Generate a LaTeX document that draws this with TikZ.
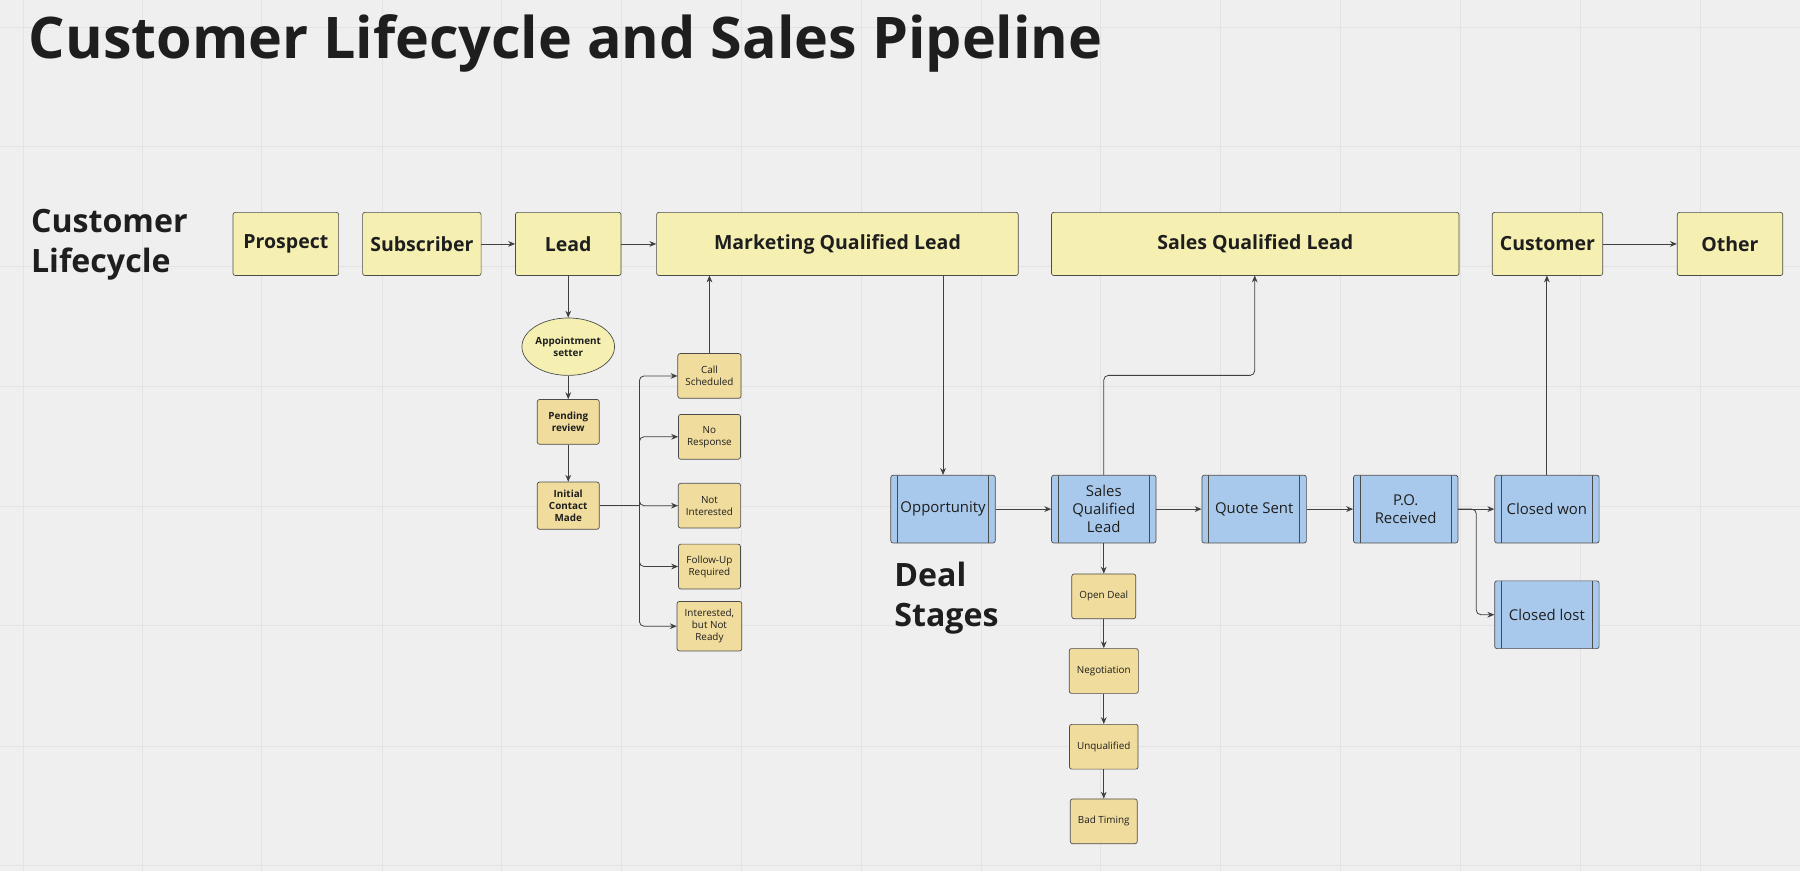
\documentclass[tikz,border=0pt]{standalone}
\usepackage{fontspec}
\setmainfont{Open Sans}
\usetikzlibrary{shapes.geometric,arrows.meta,calc}
\definecolor{bg}{HTML}{EFEFEF}
\definecolor{gridc}{HTML}{E3E3E3}
\definecolor{ylw}{HTML}{F5F0B2}
\definecolor{ylw2}{HTML}{F0DC9C}
\definecolor{blu}{HTML}{A9C9EC}
\definecolor{ink}{HTML}{1E1E1E}
\begin{document}
\begin{tikzpicture}[x=0.5pt,y=-0.5pt,
  top/.style={draw=ink!80,fill=ylw,rounded corners=1pt,font=\fontsize{8.5}{10}\selectfont\bfseries,text=ink,line width=0.3pt},
  sm/.style={draw=ink!80,fill=ylw2,rounded corners=1pt,minimum width=27pt,minimum height=19.5pt,align=center,font=\fontsize{4.3}{5.3}\selectfont,text=ink,line width=0.3pt},
  smb/.style={sm,font=\fontsize{4.3}{5.3}\selectfont\bfseries},
  bl/.style={draw=ink!80,fill=blu,rounded corners=1pt,minimum width=45.5pt,minimum height=29.5pt,align=center,font=\fontsize{6.5}{7.8}\selectfont,text=ink,line width=0.3pt,
    path picture={\draw[ink!80,line width=0.3pt] ([xshift=3pt]path picture bounding box.north west)--([xshift=3pt]path picture bounding box.south west) ([xshift=-3pt]path picture bounding box.north east)--([xshift=-3pt]path picture bounding box.south east);}},
  ar/.style={-{Stealth[length=3pt,width=2.5pt]},ink!85,line width=0.35pt}]
\fill[bg] (0,0) rectangle (1568,759);
\useasboundingbox (0,0) rectangle (1568,759);
\foreach \x in {20,124,228,333,437,541,646,750,855,959,1063,1168,1272,1377,1481} \draw[gridc,line width=0.4pt] (\x,0)--(\x,759);
\foreach \y in {24,128,232,337,441,545,650,754} \draw[gridc,line width=0.4pt] (0,\y)--(1568,\y);
\node[anchor=west,font=\fontsize{25}{30}\selectfont\bfseries,text=ink] (title) at (18,38) {Customer Lifecycle and Sales Pipeline};
\node[anchor=west,align=left,font=\fontsize{14}{17.5}\selectfont\bfseries,text=ink] (cl) at (20,213) {Customer\\Lifecycle};
\node[anchor=west,align=left,font=\fontsize{14}{17.5}\selectfont\bfseries,text=ink] (ds) at (772,521) {Deal\\Stages};
% top row
\def\tb#1#2#3#4{\node[top,minimum width={(#3-#2)*0.5pt},minimum height=27.5pt] (#1) at ({(#2+#3)/2},212.5) {#4};}
\tb{pros}{203}{295}{Prospect}
\tb{subs}{317}{418}{Subscriber}
\tb{lead}{449}{541}{Lead}
\tb{mql}{572}{887}{Marketing Qualified Lead}
\tb{sql}{916}{1271}{Sales Qualified Lead}
\tb{cust}{1302}{1394}{Customer}
\tb{oth}{1461}{1553}{Other}
\draw[ar] (subs)--(lead);
\draw[ar] (lead)--(mql);
\draw[ar] (cust)--(oth);
% left branch
\node[ellipse,draw=ink!80,fill=ylw,minimum width=33pt,minimum height=25pt,inner sep=0pt,align=center,font=\fontsize{4.3}{5.3}\selectfont\bfseries,text=ink,line width=0.3pt] (app) at (495,302) {Appointment\\setter};
\node[smb] (pend) at (495,367.5) {Pending\\review};
\node[smb] (init) at (495,440.5) {Initial\\Contact\\Made};
\draw[ar] (lead)--(app);
\draw[ar] (app)--(pend);
\draw[ar] (pend)--(init);
\node[sm] (call) at (618,327.5) {Call\\Scheduled};
\node[sm] (nor) at (618,380.5) {No\\Response};
\node[sm] (noti) at (618,440.5) {Not\\Interested};
\node[sm] (fol) at (618,493.5) {Follow-Up\\Required};
\node[sm] (intr) at (618,545.5) {Interested,\\but Not\\Ready};
\coordinate (bus) at (557,440.5);
\draw[ink!85,line width=0.35pt] (init.east)--(bus);
\foreach \n in {call,nor,noti,fol,intr} \draw[ar,rounded corners=2pt] (bus)|-(\n.west);
\draw[ar] (call.north)--(618,240);
% deal stages
\node[bl] (opp) at (821.5,443.5) {Opportunity};
\node[bl] (bsql) at (961.5,443.5) {Sales\\Qualified\\Lead};
\node[bl] (quote) at (1092.5,443.5) {Quote Sent};
\node[bl] (po) at (1224.5,443.5) {P.O.\\Received};
\node[bl] (won) at (1347.5,443.5) {Closed won};
\node[bl] (lost) at (1347.5,535.5) {Closed lost};
\draw[ar] (821.5,240)--(opp.north);
\draw[ar] (opp)--(bsql);
\draw[ar] (bsql)--(quote);
\draw[ar] (quote)--(po);
\draw[ar] (po)--(won);
\draw[ar,rounded corners=2pt] (po.east)-|(1286,535.5)--(lost.west);
\draw[ar] (won.north)--(1347.5,240);
\draw[ar,rounded corners=2pt] (bsql.north)|-(1093,327)--(1093,240);
\node[sm] (open) at (961.5,519.5) {Open Deal};
\node[sm] (neg) at (961.5,584.5) {Negotiation};
\node[sm] (unq) at (961.5,650.5) {Unqualified};
\node[sm] (bad) at (961.5,715.5) {Bad Timing};
\draw[ar] (bsql)--(open);
\draw[ar] (open)--(neg);
\draw[ar] (neg)--(unq);
\draw[ar] (unq)--(bad);
\end{tikzpicture}
\end{document}
